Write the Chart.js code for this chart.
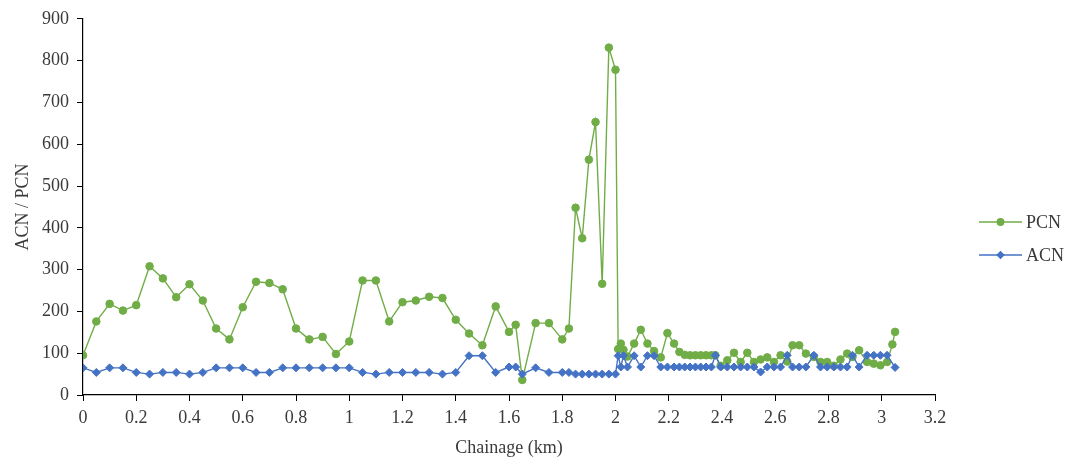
<!DOCTYPE html>
<html>
<head>
<meta charset="utf-8">
<script src="https://cdn.jsdelivr.net/npm/chart.js@4/dist/chart.umd.min.js"></script>
<style>
  html, body { margin: 0; padding: 0; background: #ffffff; }
  #wrap { width: 1072px; height: 462px; position: relative; }
</style>
</head>
<body>
<div id="wrap"><canvas id="chart" width="1072" height="462"></canvas></div>
<script>
// Chainage along the runway (km)
const chainage = [
  0, 0.05, 0.1, 0.15, 0.2, 0.25, 0.3, 0.35, 0.4, 0.45,
  0.5, 0.55, 0.6, 0.65, 0.7, 0.75, 0.8, 0.85, 0.9, 0.95,
  1.0, 1.05, 1.1, 1.15, 1.2, 1.25, 1.3, 1.35, 1.4, 1.45,
  1.5, 1.55, 1.6,
  1.625, 1.65, 1.7, 1.75, 1.8, 1.825, 1.85, 1.875, 1.9, 1.925, 1.95, 1.975, 2.0,
  2.01, 2.02, 2.03, 2.045, 2.07, 2.095, 2.12, 2.145, 2.17, 2.195,
  2.22, 2.24, 2.26, 2.28, 2.3, 2.32, 2.34, 2.36, 2.375, 2.395,
  2.42, 2.445, 2.47, 2.495, 2.52, 2.545, 2.57, 2.595, 2.62, 2.645,
  2.665, 2.69, 2.715, 2.745, 2.77, 2.795, 2.82, 2.845, 2.87, 2.89,
  2.915, 2.945, 2.97, 2.995, 3.02, 3.04, 3.05
];

// Pavement Classification Number
const pcnValues = [
  95, 176, 218, 202, 215, 308, 279, 234, 265, 226,
  159, 133, 210, 271, 268, 253, 159, 133, 139, 98,
  128, 274, 274, 176, 222, 226, 235, 232, 180, 147,
  119, 212, 151,
  168, 36, 172, 172, 133, 159, 448, 375, 563, 653, 266, 831, 778,
  110, 123, 108, 92, 123, 156, 123, 105, 90, 148,
  123, 103, 96, 95, 95, 95, 95, 95, 95, 70,
  83, 101, 79, 101, 79, 85, 90, 79, 95, 80,
  119, 119, 99, 91, 79, 79, 70, 85, 99, 91,
  107, 79, 75, 71, 79, 121, 151
];

// Aircraft Classification Number
const acnValues = [
  65, 54, 65, 65, 54, 50, 54, 54, 50, 54,
  65, 65, 65, 54, 54, 65, 65, 65, 65, 65,
  65, 54, 50, 54, 54, 54, 54, 50, 54, 94,
  94, 54, 67,
  67, 50, 65, 54, 54, 54, 50, 50, 50, 50, 50, 50, 50,
  94, 67, 94, 67, 94, 67, 94, 94, 67, 67,
  67, 67, 67, 67, 67, 67, 67, 67, 95, 67,
  67, 67, 67, 67, 67, 55, 67, 67, 67, 95,
  67, 67, 67, 95, 67, 67, 67, 67, 67, 95,
  67, 95, 95, 95, 95, null, 66
];

const xTicks = [0, 0.2, 0.4, 0.6, 0.8, 1, 1.2, 1.4, 1.6, 1.8, 2, 2.2, 2.4, 2.6, 2.8, 3, 3.2];
const yTicks = [0, 100, 200, 300, 400, 500, 600, 700, 800, 900];

const GREEN = '#70AD47';
const BLUE = '#4472C4';
const TEXT = '#3a3a3a';
const FONT = '"Liberation Serif", "Times New Roman", serif';

const toPoints = vals => chainage.map((c, i) => ({ x: c, y: vals[i] }));

// Legend drawn at the right: a short line with its marker, then the name
const sideLegend = {
  id: 'sideLegend',
  afterDraw(chart) {
    const ctx = chart.ctx;
    const items = [
      { ds: chart.data.datasets[1], y: 222 },
      { ds: chart.data.datasets[0], y: 255 }
    ];
    ctx.save();
    items.forEach(({ ds, y }) => {
      const x0 = 979, x1 = 1022, xm = (x0 + x1) / 2;
      ctx.strokeStyle = ds.borderColor;
      ctx.lineWidth = 1.4;
      ctx.beginPath();
      ctx.moveTo(x0, y);
      ctx.lineTo(x1, y);
      ctx.stroke();
      Chart.helpers.drawPoint(ctx, {
        pointStyle: ds.pointStyle,
        radius: 3.2,
        borderWidth: 1
      }, xm, y);
      ctx.fillStyle = ds.pointBackgroundColor;
      ctx.fill();
      ctx.fillStyle = TEXT;
      ctx.font = '18px ' + FONT;
      ctx.textBaseline = 'middle';
      ctx.textAlign = 'left';
      ctx.fillText(ds.label, 1026, y + 1);
    });
    ctx.restore();
  }
};

new Chart(document.getElementById('chart'), {
  type: 'line',
  data: {
    datasets: [
      {
        label: 'ACN',
        data: toPoints(acnValues),
        borderColor: BLUE,
        backgroundColor: BLUE,
        pointBackgroundColor: BLUE,
        pointBorderColor: BLUE,
        pointStyle: 'rectRot',
        pointRadius: 4,
        pointBorderWidth: 1,
        borderWidth: 1.4,
        tension: 0,
        spanGaps: true
      },
      {
        label: 'PCN',
        data: toPoints(pcnValues),
        borderColor: GREEN,
        backgroundColor: GREEN,
        pointBackgroundColor: GREEN,
        pointBorderColor: GREEN,
        pointStyle: 'circle',
        pointRadius: 3.8,
        pointBorderWidth: 1,
        borderWidth: 1.4,
        tension: 0
      }
    ]
  },
  options: {
    responsive: false,
    animation: false,
    devicePixelRatio: 1,
    layout: { padding: { left: 0, right: 137, top: 17, bottom: 0 } },
    plugins: {
      legend: { display: false },
      tooltip: { enabled: false }
    },
    scales: {
      x: {
        type: 'linear',
        min: 0,
        max: 3.2,
        afterBuildTicks: s => { s.ticks = xTicks.map(v => ({ value: v })); },
        afterFit: s => { s.height = 67; },
        grid: {
          drawOnChartArea: false,
          drawTicks: true,
          tickLength: 6,
          tickColor: '#000000',
          tickWidth: 1
        },
        border: { color: '#000000', width: 1.2 },
        ticks: {
          color: TEXT,
          font: { family: FONT, size: 18 },
          padding: 6,
          maxRotation: 0,
          autoSkip: false,
          callback: v => String(parseFloat(Number(v).toFixed(1)))
        },
        title: {
          display: true,
          text: 'Chainage (km)',
          color: TEXT,
          font: { family: FONT, size: 18 },
          padding: { top: 0, bottom: 3 }
        }
      },
      y: {
        type: 'linear',
        min: 0,
        max: 900,
        afterBuildTicks: s => { s.ticks = yTicks.map(v => ({ value: v })); },
        afterFit: s => { s.width = 83; },
        grid: {
          drawOnChartArea: false,
          drawTicks: true,
          tickLength: 6,
          tickColor: '#000000',
          tickWidth: 1
        },
        border: { color: '#000000', width: 1.2 },
        ticks: {
          color: TEXT,
          font: { family: FONT, size: 18 },
          padding: 8
        },
        title: {
          display: true,
          text: 'ACN / PCN',
          color: TEXT,
          font: { family: FONT, size: 18 },
          padding: { top: 12, bottom: 0 }
        }
      }
    }
  },
  plugins: [sideLegend]
});
</script>
</body>
</html>
